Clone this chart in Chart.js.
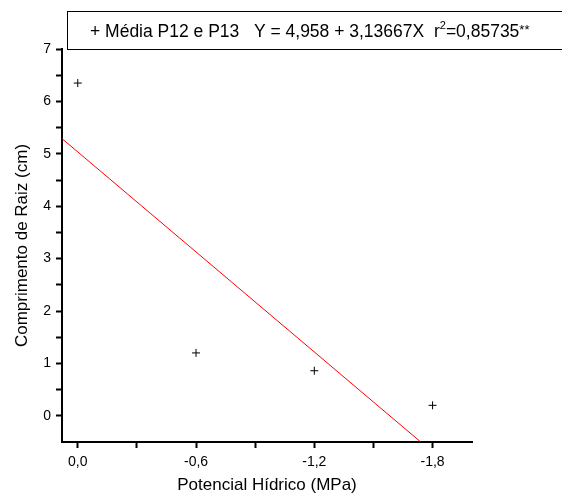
<!DOCTYPE html>
<html>
<head>
<meta charset="utf-8">
<script src="https://cdn.jsdelivr.net/npm/chart.js@4"></script>
<style>
  html, body { margin: 0; padding: 0; background: #fff; }
  #wrap { width: 562px; height: 500px; }
</style>
</head>
<body>
<div id="wrap"><canvas id="chart" width="562" height="500"></canvas></div>
<script>
const potencial = [0.0, -0.6, -1.2, -1.8];
const comprimento = [6.35, 1.2, 0.86, 0.2];
const fitX = [0.08, -1.74];
const fitY = [5.29, -0.5];
const xTicks = [0, -0.3, -0.6, -0.9, -1.2, -1.5, -1.8];
const xLabels = { "0": "0,0", "-0.6": "-0,6", "-1.2": "-1,2", "-1.8": "-1,8" };
const yTicks = [0, 0.5, 1, 1.5, 2, 2.5, 3, 3.5, 4, 4.5, 5, 5.5, 6, 6.5, 7];

const font = "'Liberation Sans', Arial, sans-serif";

// legend box at the top, drawn by hand
const legendBox = {
  id: "legendBox",
  afterDraw(chart) {
    const ctx = chart.ctx;
    ctx.save();
    ctx.strokeStyle = "#000";
    ctx.lineWidth = 1;
    ctx.strokeRect(67.5, 11.5, 520, 38);
    ctx.fillStyle = "#000";
    ctx.textBaseline = "alphabetic";
    let x = 90;
    const y = 37;
    ctx.font = "17.5px " + font;
    const main = "+ Média P12 e P13   Y = 4,958 + 3,13667X  r";
    ctx.fillText(main, x, y);
    x += ctx.measureText(main).width;
    ctx.font = "11px " + font;
    ctx.fillText("2", x, y - 8);
    x += ctx.measureText("2").width;
    ctx.font = "17.5px " + font;
    ctx.fillText("=0,85735", x, y);
    x += ctx.measureText("=0,85735").width;
    ctx.font = "13px " + font;
    ctx.fillText("**", x, y - 3);
    ctx.restore();
  },
};

new Chart(document.querySelector("#chart"), {
  data: {
    datasets: [
      {
        type: "scatter",
        label: "Média P12 e P13",
        data: potencial.map((v, i) => ({ x: v, y: comprimento[i] })),
        pointStyle: "cross",
        pointRadius: 4,
        borderColor: "#000",
        borderWidth: 1,
      },
      {
        type: "line",
        label: "ajuste",
        data: fitX.map((v, i) => ({ x: v, y: fitY[i] })),
        borderColor: "#ff0000",
        borderWidth: 1,
        pointRadius: 0,
        fill: false,
      },
    ],
  },
  options: {
    responsive: false,
    animation: false,
    layout: { padding: { top: 49, right: 90, left: 0, bottom: 0 } },
    plugins: {
      legend: { display: false },
      tooltip: { enabled: false },
    },
    scales: {
      x: {
        type: "linear",
        reverse: true,
        min: -2.0,
        max: 0.08,
        afterBuildTicks: (s) => { s.ticks = xTicks.map((v) => ({ value: v })); },
        afterFit: (s) => { s.height = 58; },
        ticks: {
          color: "#000",
          font: { family: font, size: 14 },
          padding: 6,
          maxRotation: 0,
          autoSkip: false,
          callback: (v) => xLabels[String(v)] || "",
        },
        grid: { drawOnChartArea: false, tickLength: 6, tickWidth: 2, tickColor: "#000" },
        border: { color: "#000", width: 2 },
        title: {
          display: true,
          text: "Potencial Hídrico (MPa)",
          color: "#000",
          font: { family: font, size: 17 },
          padding: { top: 6 },
        },
      },
      y: {
        type: "linear",
        min: -0.5,
        max: 7,
        afterBuildTicks: (s) => { s.ticks = yTicks.map((v) => ({ value: v })); },
        afterFit: (s) => { s.width = 62; },
        ticks: {
          color: "#000",
          font: { family: font, size: 14 },
          padding: 5,
          autoSkip: false,
          callback: (v) => (Number.isInteger(v) ? String(v) : ""),
        },
        grid: { drawOnChartArea: false, tickLength: 6, tickWidth: 2, tickColor: "#000" },
        border: { color: "#000", width: 2 },
        title: {
          display: true,
          text: "Comprimento de Raiz (cm)",
          color: "#000",
          font: { family: font, size: 17 },
          padding: { top: 12, bottom: 0 },
        },
      },
    },
  },
  plugins: [legendBox],
});
</script>
</body>
</html>
